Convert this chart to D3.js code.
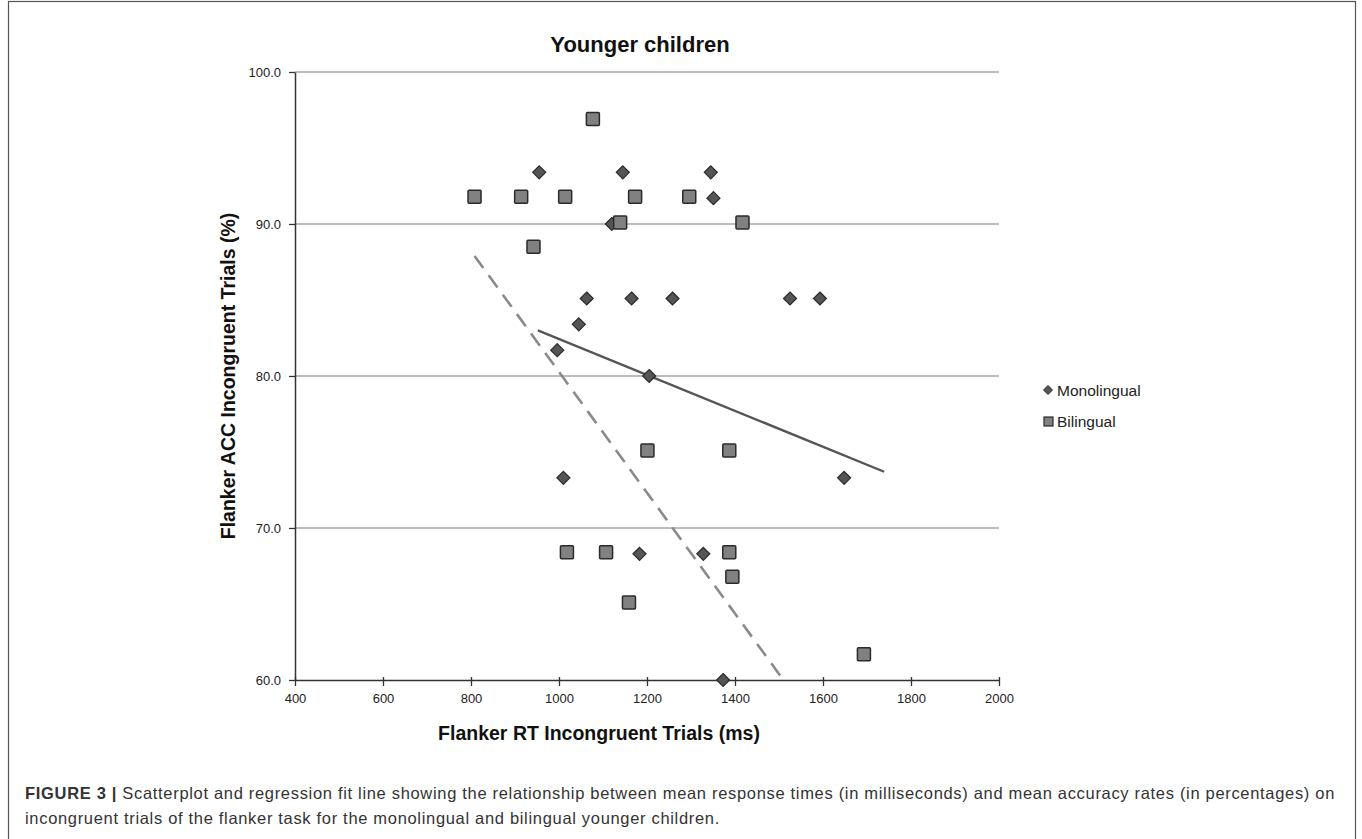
<!DOCTYPE html>
<html><head><meta charset="utf-8">
<script src="https://cdn.jsdelivr.net/npm/d3@7"></script>
<style>
body{margin:0;background:#fff;}
svg{display:block;font-family:"Liberation Sans",Arial,sans-serif;}
</style></head>
<body>
<svg id="c" width="1362" height="839"></svg>
<script>
const xTicks = [400,600,800,1000,1200,1400,1600,1800,2000];
const yTicks = [60,70,80,90,100];
const seriesNames = ["Monolingual","Bilingual"];
const monoRT  = [955,1145,1345,1351,1120,1063,1165,1258,1525,1593,1045,996,1205,1010,1648,1183,1328,1373];
const monoACC = [93.4,93.4,93.4,91.7,90.0,85.1,85.1,85.1,85.1,85.1,83.4,81.7,80.0,73.3,73.3,68.3,68.3,60.0];
const biRT  = [1077,808,914,1014,1173,1296,1139,1417,942,1201,1387,1018,1107,1387,1394,1159,1693];
const biACC = [96.9,91.8,91.8,91.8,91.8,91.8,90.1,90.1,88.5,75.1,75.1,68.4,68.4,68.4,66.8,65.1,61.7];
const monoFitX = [952,1739], monoFitY = [83.0,73.7];
const biFitX = [808,1510],  biFitY = [87.9,60.0];

const svg = d3.select("#c");
// frame
svg.append("rect").attr("x",8.5).attr("y",1.5).attr("width",1347).attr("height",850)
  .attr("fill","none").attr("stroke","#555").attr("stroke-width",1.2);

const x = d3.scaleLinear().domain([400,2000]).range([295,999]);
const y = d3.scaleLinear().domain([60,100]).range([680,72]);

// gridlines
svg.append("g").selectAll("line").data(yTicks.filter(d=>d>60)).join("line")
  .attr("x1",x(400)).attr("x2",x(2000)).attr("y1",d=>y(d)).attr("y2",d=>y(d))
  .attr("stroke","#a6a6a6").attr("stroke-width",1.5);

// axes
const xa = svg.append("g").attr("transform",`translate(0,${y(60)})`)
  .call(d3.axisBottom(x).tickValues(xTicks).tickSize(6).tickSizeOuter(0).tickFormat(d3.format("d")));
const ya = svg.append("g").attr("transform",`translate(${x(400)},0)`)
  .call(d3.axisLeft(y).tickValues(yTicks).tickSize(6).tickSizeOuter(0).tickFormat(d3.format(".1f")));
[xa,ya].forEach(a=>{
  a.select(".domain").attr("stroke","#333").attr("stroke-width",1.5);
  a.selectAll(".tick line").attr("stroke","#333").attr("stroke-width",1.3);
  a.selectAll(".tick text").attr("font-size",13).attr("fill","#222").attr("font-family","'Liberation Sans',Arial,sans-serif");
});
xa.selectAll(".tick line").attr("y2",6).attr("y1",-3);
xa.selectAll(".tick text").attr("dy","1.1em");
ya.selectAll(".tick line").attr("x2",-6).attr("x1",0);
ya.selectAll(".tick text").attr("x",-14);

// fit lines
const line = d3.line().x(d=>x(d[0])).y(d=>y(d[1]));
svg.append("path").attr("d",line(biFitX.map((v,i)=>[v,biFitY[i]])))
  .attr("fill","none").attr("stroke","#8a8a8a").attr("stroke-width",2.6).attr("stroke-dasharray","15,9");
svg.append("path").attr("d",line(monoFitX.map((v,i)=>[v,monoFitY[i]])))
  .attr("fill","none").attr("stroke","#555").attr("stroke-width",2.4);

// markers
const diamond = "M0,-6.5L6.5,0L0,6.5L-6.5,0Z";
svg.append("g").selectAll("path").data(monoRT.map((v,i)=>[v,monoACC[i]])).join("path")
  .attr("d",diamond).attr("transform",d=>`translate(${x(d[0])},${y(d[1])})`)
  .attr("fill","#555").attr("stroke","#2a2a2a").attr("stroke-width",1.2);
svg.append("g").selectAll("rect").data(biRT.map((v,i)=>[v,biACC[i]])).join("rect")
  .attr("x",d=>x(d[0])-6.5).attr("y",d=>y(d[1])-6.5).attr("width",13).attr("height",13).attr("rx",1)
  .attr("fill","#818181").attr("stroke","#2a2a2a").attr("stroke-width",1.5);

// title & axis titles
svg.append("text").attr("x",640).attr("y",52).attr("text-anchor","middle")
  .attr("font-size",22).attr("font-weight","bold").attr("fill","#111").text("Younger children");
svg.append("text").attr("x",599).attr("y",740).attr("text-anchor","middle")
  .attr("font-size",19.5).attr("font-weight","bold").attr("fill","#111").text("Flanker RT Incongruent Trials (ms)");
svg.append("text").attr("transform","translate(235,376) rotate(-90)").attr("text-anchor","middle")
  .attr("font-size",19.5).attr("font-weight","bold").attr("fill","#111").text("Flanker ACC Incongruent Trials (%)");

// legend
const lg = svg.append("g");
lg.append("path").attr("d","M0,-4.5L4.5,0L0,4.5L-4.5,0Z").attr("transform","translate(1048,390)")
  .attr("fill","#555").attr("stroke","#2a2a2a").attr("stroke-width",1);
lg.append("rect").attr("x",1044).attr("y",417).attr("width",9).attr("height",9)
  .attr("fill","#818181").attr("stroke","#2a2a2a").attr("stroke-width",1.2);
lg.selectAll("text").data(seriesNames).join("text")
  .attr("x",1057).attr("y",(d,i)=>396+i*31).attr("font-size",15.5).attr("fill","#222").text(d=>d);

// caption
const cap = svg.append("text").attr("x",25).attr("y",799).attr("font-size",16.5).attr("fill","#333");
cap.append("tspan").attr("font-weight","bold").text("FIGURE 3 | ");
cap.append("tspan").text("Scatterplot and regression fit line showing the relationship between mean response times (in milliseconds) and mean accuracy rates (in percentages) on");
const cap2 = svg.append("text").attr("x",25).attr("y",824).attr("font-size",16.5).attr("fill","#333")
  .text("incongruent trials of the flanker task for the monolingual and bilingual younger children.");
const len = cap.node().getComputedTextLength();
const nch = cap.text().length;
const ls = (1310 - len) / nch;
cap.attr("letter-spacing", ls);
cap2.attr("letter-spacing", ls);
</script>
</body></html>
